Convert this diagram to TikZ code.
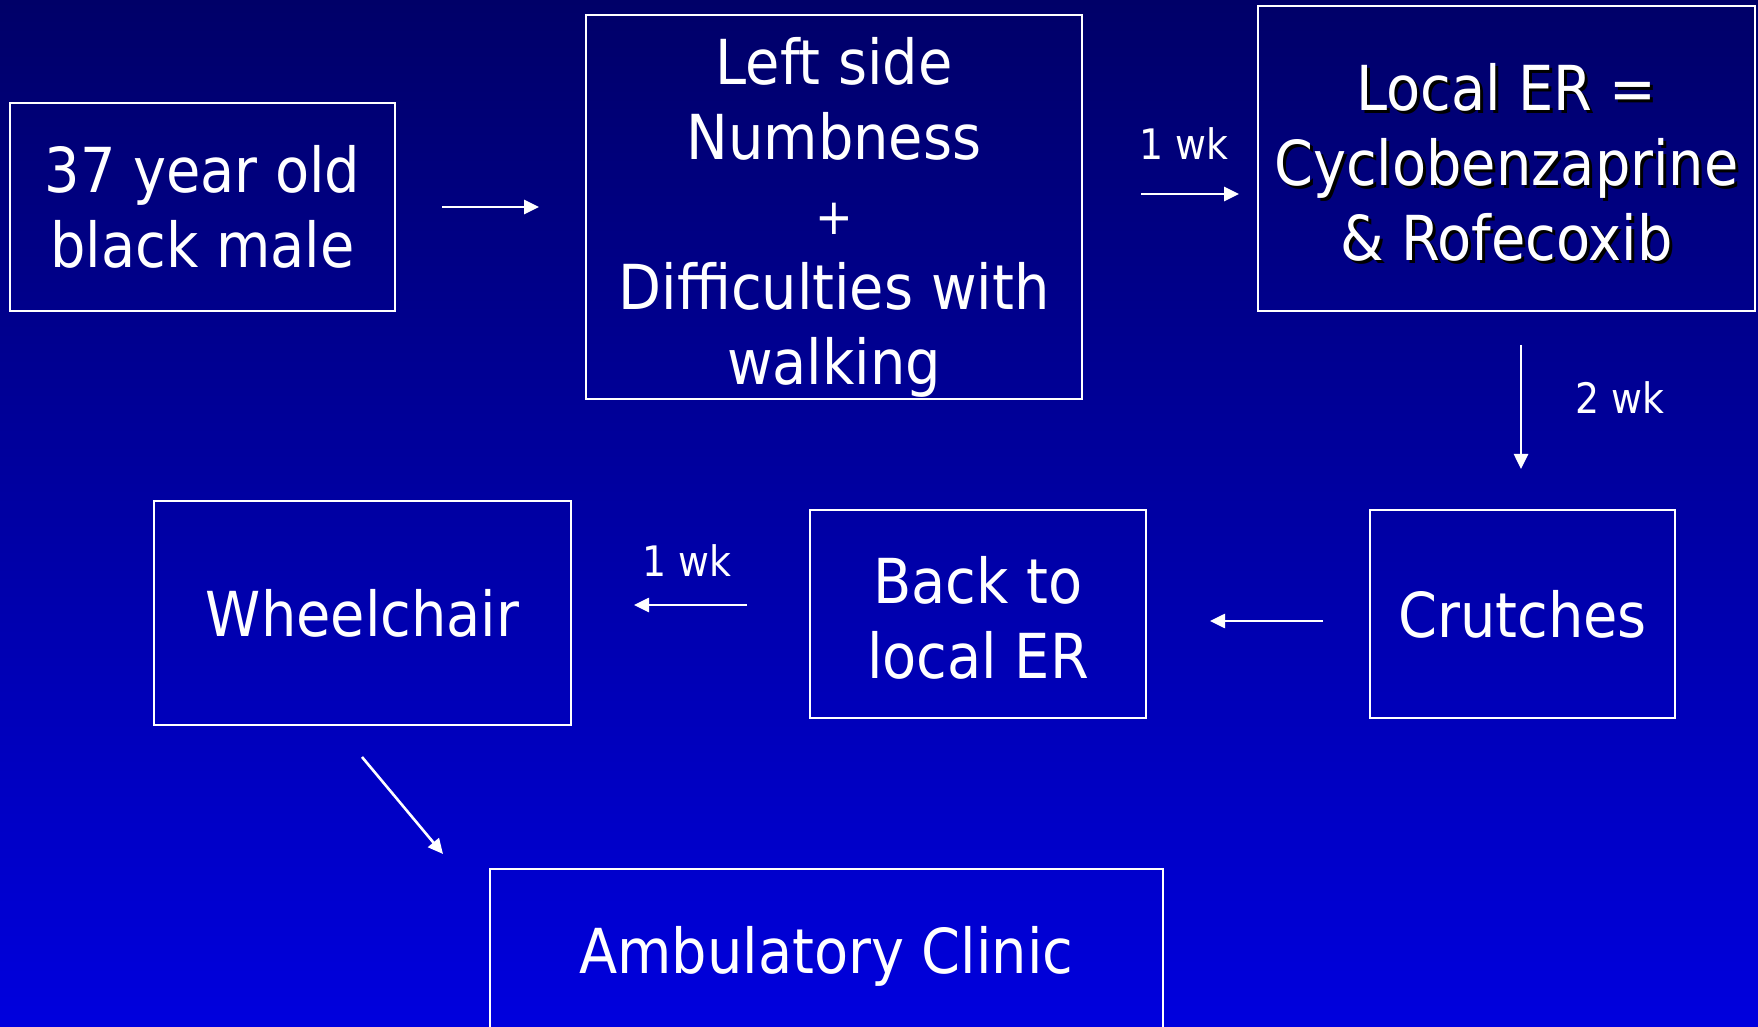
\documentclass[tikz,border=0pt]{standalone}
\usepackage{fontspec}
\setmainfont{DejaVu Sans Condensed}
\usetikzlibrary{arrows.meta}
\definecolor{bgtop}{RGB}{0,0,104}
\definecolor{bgbot}{RGB}{0,0,222}
\begin{document}
\begin{tikzpicture}[x=0.5pt,y=-0.5pt,
  box/.style={draw=white,line width=1.2pt,rectangle,inner sep=0pt,text=white,align=center,font=\fontsize{31}{37.5}\selectfont},
  boxtxt/.style={rectangle,inner sep=0pt,text=white,align=center,font=\fontsize{31}{37.5}\selectfont},
  shadowtxt/.style={boxtxt,text=black},
  arr/.style={white,line width=1.3pt,-{Triangle[length=7.5pt,width=7pt]}},
  lbl/.style={text=white,font=\fontsize{21}{25}\selectfont}]
\useasboundingbox (0,0) rectangle (1758,1027);
\clip (0,0) rectangle (1758,1027);
\shade[top color=bgtop,bottom color=bgbot] (0,0) rectangle (1758,1027);

\node[box,minimum width=192.5pt,minimum height=104pt] (b1) at (202.5,207) {37 year old\\black male};
\node[box,minimum width=248pt,minimum height=192pt] (b2) at (834,207) {};
\node[boxtxt] (b2t) at (834,217) {Left side\\Numbness\\{\fontsize{25}{30}\selectfont +}\\Difficulties with\\walking};
\node[shadowtxt] (b3s) at (1509.5,165.5) {Local ER =\\Cyclobenzaprine\\\& Rofecoxib};
\node[box,minimum width=248.5pt,minimum height=152.5pt] (b3) at (1506.5,158.5) {};
\node[boxtxt] (b3t) at (1506.5,162) {Local ER =\\Cyclobenzaprine\\\& Rofecoxib};
\node[box,minimum width=208.5pt,minimum height=112pt] (b4) at (362.5,613) {Wheelchair};
\node[box,minimum width=168pt,minimum height=104pt] (b5) at (978,614) {};
\node[boxtxt] (b5t) at (978,618) {Back to\\local ER};
\node[box,minimum width=152.5pt,minimum height=104pt] (b6) at (1522.5,614) {Crutches};
\node[box,minimum width=336.5pt,minimum height=84pt] (b7) at (826.5,953) {};
\node[boxtxt] (b7t) at (826.5,956) {Ambulatory Clinic};

\coordinate (a1s) at (442,207); \coordinate (a1e) at (539,207);
\coordinate (a2s) at (1141,194); \coordinate (a2e) at (1239,194);
\coordinate (a3s) at (1521,345); \coordinate (a3e) at (1521,469);
\coordinate (a4s) at (747,605); \coordinate (a4e) at (634,605);
\coordinate (a5s) at (1323,621); \coordinate (a5e) at (1210,621);
\coordinate (a6s) at (362,757); \coordinate (a6e) at (443,854);

\draw[arr] (a1s) -- (a1e);
\draw[arr] (a2s) -- (a2e);
\draw[arr] (a3s) -- (a3e);
\draw[arr] (a4s) -- (a4e);
\draw[arr] (a5s) -- (a5e);
\draw[arr] (a6s) -- (a6e);

\node[lbl] (l1) at (1184,144) {1 wk};
\node[lbl] (l2) at (1620,398) {2 wk};
\node[lbl] (l3) at (687,561) {1 wk};
\end{tikzpicture}
\end{document}
